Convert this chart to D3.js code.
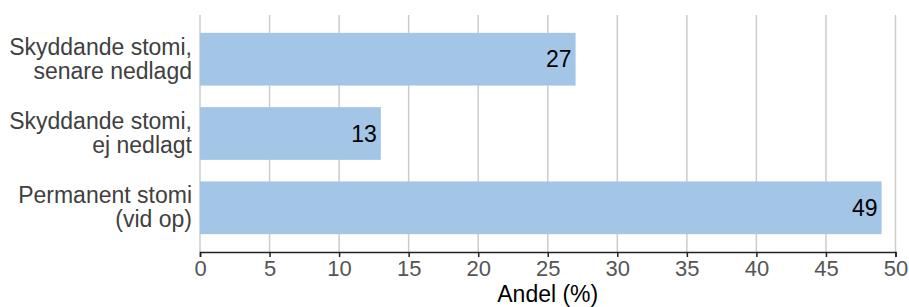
<!DOCTYPE html>
<html>
<head>
<meta charset="utf-8">
<script src="https://cdn.jsdelivr.net/npm/d3@7"></script>
<style>
  body { margin: 0; background: #fff; }
  svg { font-family: "Liberation Sans", Arial, sans-serif; }
</style>
</head>
<body>
<div id="chart"></div>
<script>
var categories = [
  ["Skyddande stomi,", "senare nedlagd"],
  ["Skyddande stomi,", "ej nedlagt"],
  ["Permanent stomi", "(vid op)"]
];
var values = [27, 13, 49];
var xTicks = [0, 5, 10, 15, 20, 25, 30, 35, 40, 45, 50];
var xTitle = "Andel (%)";

var width = 909, height = 307;
var plotLeft = 200, plotRight = 895.5, plotTop = 15, plotBottom = 252;

var svg = d3.select("#chart").append("svg")
    .attr("width", width).attr("height", height);

var x = d3.scaleLinear().domain([0, 50]).range([plotLeft, plotRight]);
var y = d3.scaleBand().domain(d3.range(categories.length))
    .range([plotTop, plotBottom]).paddingInner(0.29).paddingOuter(0.24);

// gridlines
svg.selectAll("line.grid")
    .data(xTicks)
    .enter().append("line")
    .attr("class", "grid")
    .attr("x1", function(d){ return x(d); })
    .attr("x2", function(d){ return x(d); })
    .attr("y1", plotTop)
    .attr("y2", plotBottom)
    .attr("stroke", "#cccccc")
    .attr("stroke-width", 1.5);

// bars
svg.selectAll("rect")
    .data(values)
    .enter().append("rect")
    .attr("x", x(0))
    .attr("y", function(d, i){ return y(i); })
    .attr("width", function(d){ return x(d) - x(0); })
    .attr("height", y.bandwidth())
    .attr("fill", "#a3c6e6");

// value labels
svg.selectAll("text.val")
    .data(values)
    .enter().append("text")
    .attr("class", "val")
    .attr("x", function(d){ return x(d) - 4; })
    .attr("y", function(d, i){ return y(i) + y.bandwidth() / 2; })
    .attr("dy", "0.35em")
    .style("text-anchor", "end")
    .attr("font-size", "23px")
    .attr("fill", "#000")
    .text(function(d){ return d; });

// category labels
var cat = svg.selectAll("text.cat")
    .data(categories)
    .enter().append("text")
    .attr("class", "cat")
    .attr("x", plotLeft - 8)
    .attr("y", function(d, i){ return y(i) + y.bandwidth() / 2; })
    .style("text-anchor", "end")
    .attr("font-size", "23px")
    .attr("fill", "#404040");

cat.selectAll("tspan")
    .data(function(d){ return d; })
    .enter().append("tspan")
    .attr("x", plotLeft - 8)
    .attr("dy", function(d, i){ return i === 0 ? "-0.2em" : "1.05em"; })
    .text(function(d){ return d; });

// x axis
var axis = svg.append("g")
    .attr("transform", "translate(0," + plotBottom + ")")
    .call(d3.axisBottom(x).tickValues(xTicks).tickSize(5).tickPadding(3));

axis.select(".domain").attr("stroke", "#222").attr("stroke-width", 1.5);
axis.selectAll(".tick line").attr("stroke", "#222").attr("stroke-width", 1.5);
axis.selectAll(".tick text")
    .attr("font-size", "22px")
    .attr("font-family", "Liberation Sans, Arial, sans-serif")
    .attr("fill", "#555");

svg.append("text")
    .attr("x", (plotLeft + plotRight) / 2)
    .attr("y", 302)
    .style("text-anchor", "middle")
    .attr("font-size", "23px")
    .attr("fill", "#000")
    .text(xTitle);
</script>
</body>
</html>
